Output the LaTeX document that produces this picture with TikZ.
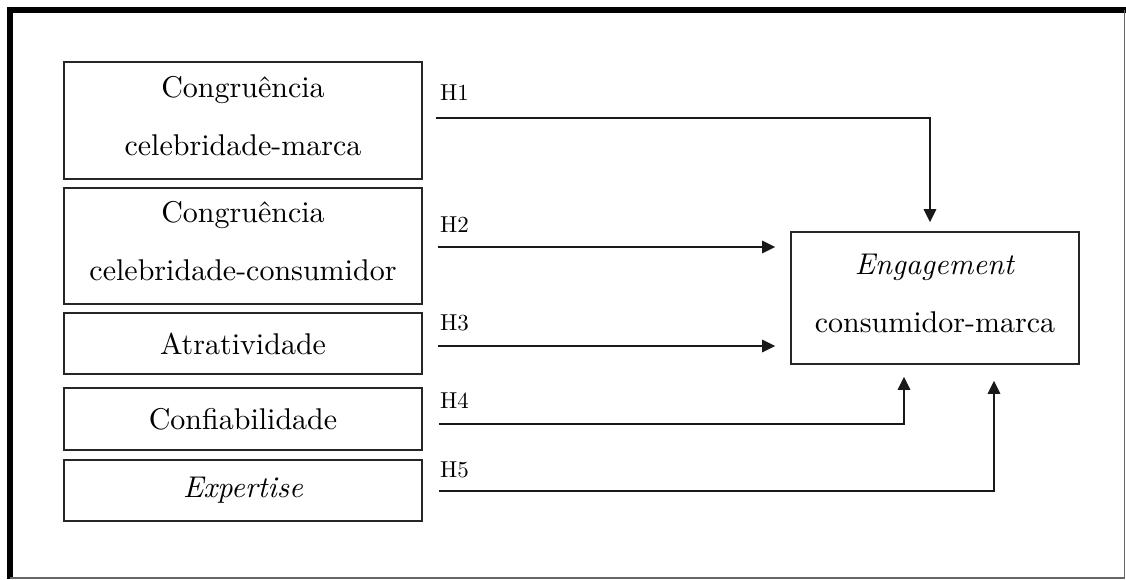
\documentclass[tikz,border=0pt]{standalone}
\usepackage{fontspec}
\setmainfont{lmroman10-regular.otf}[ItalicFont=lmroman10-italic.otf]
\usetikzlibrary{arrows.meta,calc}
\begin{document}
\begin{tikzpicture}[x=1pt,y=-1pt,
  box/.style={draw=black!85,line width=1.6pt,inner sep=0pt,align=center,
    font=\fontsize{30}{58}\selectfont},
  lbox/.style={box,minimum width=358pt},
  twoline/.style={text depth=10pt},
  hlab/.style={anchor=base west,inner sep=0pt,font=\fontsize{23}{24}\selectfont},
  arr/.style={draw=black!90,line width=1.6pt,-{Triangle[length=13pt,width=12.5pt]}}]
\useasboundingbox (0,0) rectangle (1126,579);
% frame
\draw[black,line width=6pt] (10,579) -- (10,10) -- (1126,10);
\draw[black!60,line width=1.2pt] (1124.5,10) -- (1124.5,578) -- (10,578);
% left boxes
\node[lbox,twoline,minimum height=117pt] (b1) at (243,120.5) {Congruência\\celebridade-marca};
\node[lbox,twoline,minimum height=116pt] (b2) at (243,246) {Congruência\\celebridade-consumidor};
\node[lbox,minimum height=61pt] (b3) at (243,343.5) {Atratividade};
\node[lbox,minimum height=62pt] (b4) at (243,419) {Confiabilidade};
\node[lbox,minimum height=61pt] (b5) at (243,490.5) {\itshape Expertise};
% target
\node[box,twoline,minimum width=288pt,minimum height=132pt] (eng) at (935,298) {\textit{Engagement}\\consumidor-marca};
% labels
\node[hlab] (h1) at (440,100) {H1};
\node[hlab] (h2) at (440,232) {H2};
\node[hlab] (h3) at (440,330) {H3};
\node[hlab] (h4) at (440,408) {H4};
\node[hlab] (h5) at (440,477) {H5};
% arrows
\draw[arr] ($(b1.east)+(13,-2.5)$) -| ($(eng.north)+(-5,-9)$);
\draw[arr] ($(b2.east)+(15,1)$) -- ($(eng.west |- b2.east)+(-15,1)$);
\draw[arr] ($(b3.east)+(15,2.5)$) -- ($(eng.west |- b3.east)+(-15,2.5)$);
\draw[arr] ($(b4.east)+(16,5)$) -| ($(eng.south)+(-31,12)$);
\draw[arr] ($(b5.east)+(16,0.5)$) -| ($(eng.south)+(59,16)$);
\end{tikzpicture}
\end{document}
